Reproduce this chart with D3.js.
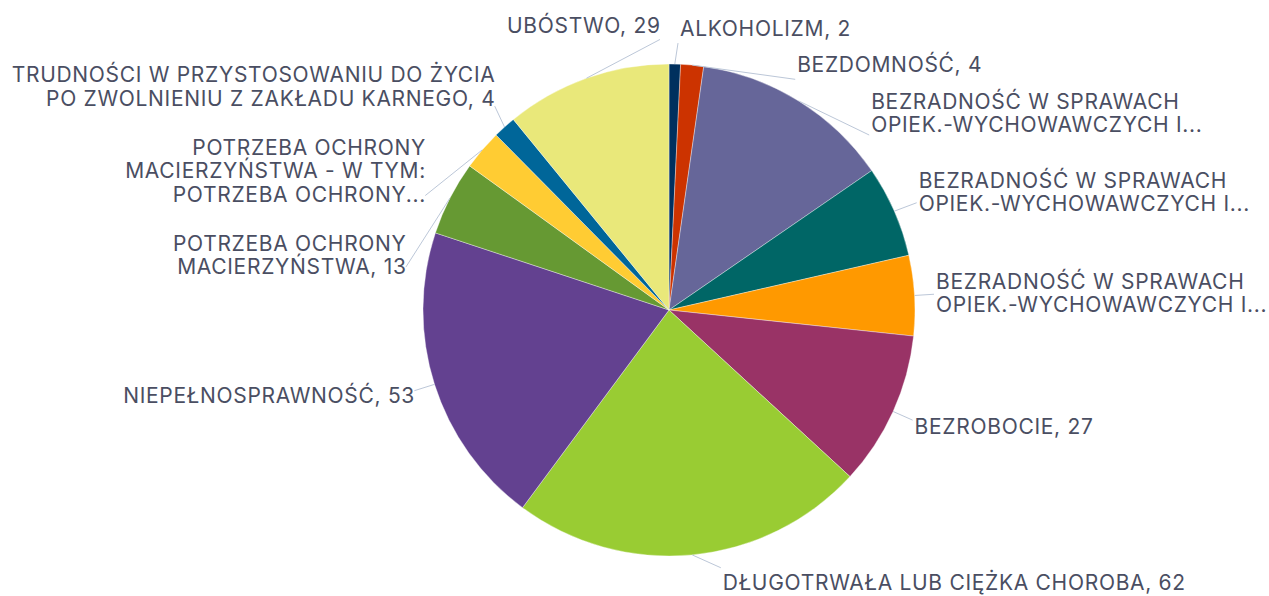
<!DOCTYPE html>
<html><head><meta charset="utf-8">
<script src="https://cdn.jsdelivr.net/npm/d3@7"></script>
<style>body{margin:0;background:#fff}</style>
</head><body>
<svg id="chart" width="1269" height="596"></svg>
<script>
// ---- data ----
const categories = [
  "ALKOHOLIZM", "BEZDOMNOŚĆ",
  "BEZRADNOŚĆ W SPRAWACH OPIEK.-WYCHOWAWCZYCH I... (1)",
  "BEZRADNOŚĆ W SPRAWACH OPIEK.-WYCHOWAWCZYCH I... (2)",
  "BEZRADNOŚĆ W SPRAWACH OPIEK.-WYCHOWAWCZYCH I... (3)",
  "BEZROBOCIE", "DŁUGOTRWAŁA LUB CIĘŻKA CHOROBA", "NIEPEŁNOSPRAWNOŚĆ",
  "POTRZEBA OCHRONY MACIERZYŃSTWA",
  "POTRZEBA OCHRONY MACIERZYŃSTWA - W TYM: POTRZEBA OCHRONY...",
  "TRUDNOŚCI W PRZYSTOSOWANIU DO ŻYCIA PO ZWOLNIENIU Z ZAKŁADU KARNEGO",
  "UBÓSTWO"
];
const values = [2, 4, 35, 16, 14, 27, 62, 53, 13, 7, 4, 29];
const labelLines = [
  ["ALKOHOLIZM, 2"],
  ["BEZDOMNOŚĆ, 4"],
  ["BEZRADNOŚĆ W SPRAWACH", "OPIEK.-WYCHOWAWCZYCH I..."],
  ["BEZRADNOŚĆ W SPRAWACH", "OPIEK.-WYCHOWAWCZYCH I..."],
  ["BEZRADNOŚĆ W SPRAWACH", "OPIEK.-WYCHOWAWCZYCH I..."],
  ["BEZROBOCIE, 27"],
  ["DŁUGOTRWAŁA LUB CIĘŻKA CHOROBA, 62"],
  ["NIEPEŁNOSPRAWNOŚĆ, 53"],
  ["POTRZEBA OCHRONY", "MACIERZYŃSTWA, 13"],
  ["POTRZEBA OCHRONY", "MACIERZYŃSTWA - W TYM:", "POTRZEBA OCHRONY..."],
  ["TRUDNOŚCI W PRZYSTOSOWANIU DO ŻYCIA", "PO ZWOLNIENIU Z ZAKŁADU KARNEGO, 4"],
  ["UBÓSTWO, 29"]
];
const colors = ["#00305e", "#cc3300", "#666699", "#006666", "#ff9900", "#993366",
                "#99cc33", "#634190", "#669933", "#ffcc33", "#006699", "#e9e87a"];

// ---- layout ----
const W = 1269, H = 596;
const cx = 669, cy = 310, r = 246;
const Rlab = 270, Rh = 266, MIN_DX = 10;
const LH = 23.3, GAP = {right: 13, left: 26};
const TOP_LIMIT = 14, BOTTOM_LIMIT = H - 2;
const FONT = "Inter", FS = 21;
const TEXT_COLOR = "#4a4e62";

const svg = d3.select("#chart");

// calibrate letter spacing to match the reference's wide lettering
const probeText = "DŁUGOTRWAŁA LUB CIĘŻKA CHOROBA, 62";
const probe = svg.append("text").style("font-family", FONT).style("font-size", FS + "px")
  .attr("x", -1000).attr("y", -1000).text(probeText);
const pw = probe.node().getComputedTextLength();
probe.remove();
const LS = Math.max(0, (463 - pw) / probeText.length);

const pie = d3.pie().value(d => d).sort(null).startAngle(0).endAngle(2 * Math.PI);
const arcs = pie(values);
const arc = d3.arc().innerRadius(0).outerRadius(r);

const g = svg.append("g").attr("transform", `translate(${cx},${cy})`);
g.selectAll("path.slice").data(arcs).join("path")
  .attr("class", "slice")
  .attr("d", arc)
  .attr("fill", (d, i) => colors[i])
  .attr("stroke", "#ffffff").attr("stroke-width", 0.6).attr("stroke-opacity", 0.6);

// label boxes (natural position just outside the pie along the slice's mid angle)
const labels = arcs.map((a, i) => {
  const th = (a.startAngle + a.endAngle) / 2;
  const s = Math.sin(th), c = Math.cos(th);
  const h = labelLines[i].length * LH;
  const px = cx + Rlab * s, py = cy - Rlab * c;
  return {i, th, s, c, h, right: s >= 0, y0: py - (h / 2) * c, px, py};
});

// resolve overlaps: labels are processed in angle order (right side top->bottom, left side bottom->top)
function pushDown(L, gap) {
  let prev = null;
  L.forEach(l => {
    if (l.y - l.h / 2 < TOP_LIMIT) l.y = TOP_LIMIT + l.h / 2;
    if (prev) l.y = Math.max(l.y, prev.y + prev.h / 2 + l.h / 2 + gap);
    prev = l;
  });
}
function pushUp(L, gap) {
  let prev = null;
  for (let k = L.length - 1; k >= 0; k--) {
    const l = L[k];
    if (l.y + l.h / 2 > BOTTOM_LIMIT) l.y = BOTTOM_LIMIT - l.h / 2;
    if (prev) l.y = Math.min(l.y, prev.y - prev.h / 2 - l.h / 2 - gap);
    prev = l;
  }
}
const rightL = labels.filter(l => l.right).sort((a, b) => a.y0 - b.y0);
const leftL = labels.filter(l => !l.right).sort((a, b) => a.y0 - b.y0);
rightL.forEach(l => l.y = l.y0);
leftL.forEach(l => l.y = l.y0);
pushDown(rightL, GAP.right); pushUp(rightL, GAP.right);
pushUp(leftL, GAP.left); pushDown(leftL, GAP.left);

// horizontal alignment on a circle around the pie
labels.forEach(l => {
  const top = l.y - l.h / 2, bot = l.y + l.h / 2;
  const t = (top <= cy && bot >= cy) ? 0 : Math.min(Math.abs(top - cy), Math.abs(bot - cy));
  const dx = Math.max(MIN_DX, t < Rh ? Math.sqrt(Rh * Rh - t * t) : 0);
  l.x = l.right ? cx + dx : cx - dx;
});

// connectors
svg.append("g").selectAll("line").data(labels).join("line")
  .attr("x1", l => cx + r * l.s)
  .attr("y1", l => cy - r * l.c)
  .attr("x2", l => l.x + (l.right ? -1 : 1))
  .attr("y2", l => Math.max(l.y - l.h / 2, Math.min(l.y + l.h / 2, l.y + (l.h / 2) * l.c)) + 3 * l.c)
  .attr("stroke", "#bcc7d8").attr("stroke-width", 1);

// texts
const tg = svg.append("g");
labels.forEach(l => {
  const txt = tg.append("text")
    .attr("text-anchor", l.right ? "start" : "end")
    .style("font-family", FONT).style("font-size", FS + "px")
    .style("letter-spacing", LS + "px")
    .attr("fill", TEXT_COLOR);
  labelLines[l.i].forEach((line, k) => {
    txt.append("tspan").attr("x", l.x + (l.right ? 1 : 1 + LS)).attr("y", l.y - l.h / 2 + LH * k + LH / 2 + 7.5).text(line);
  });
});
</script>
</body></html>
